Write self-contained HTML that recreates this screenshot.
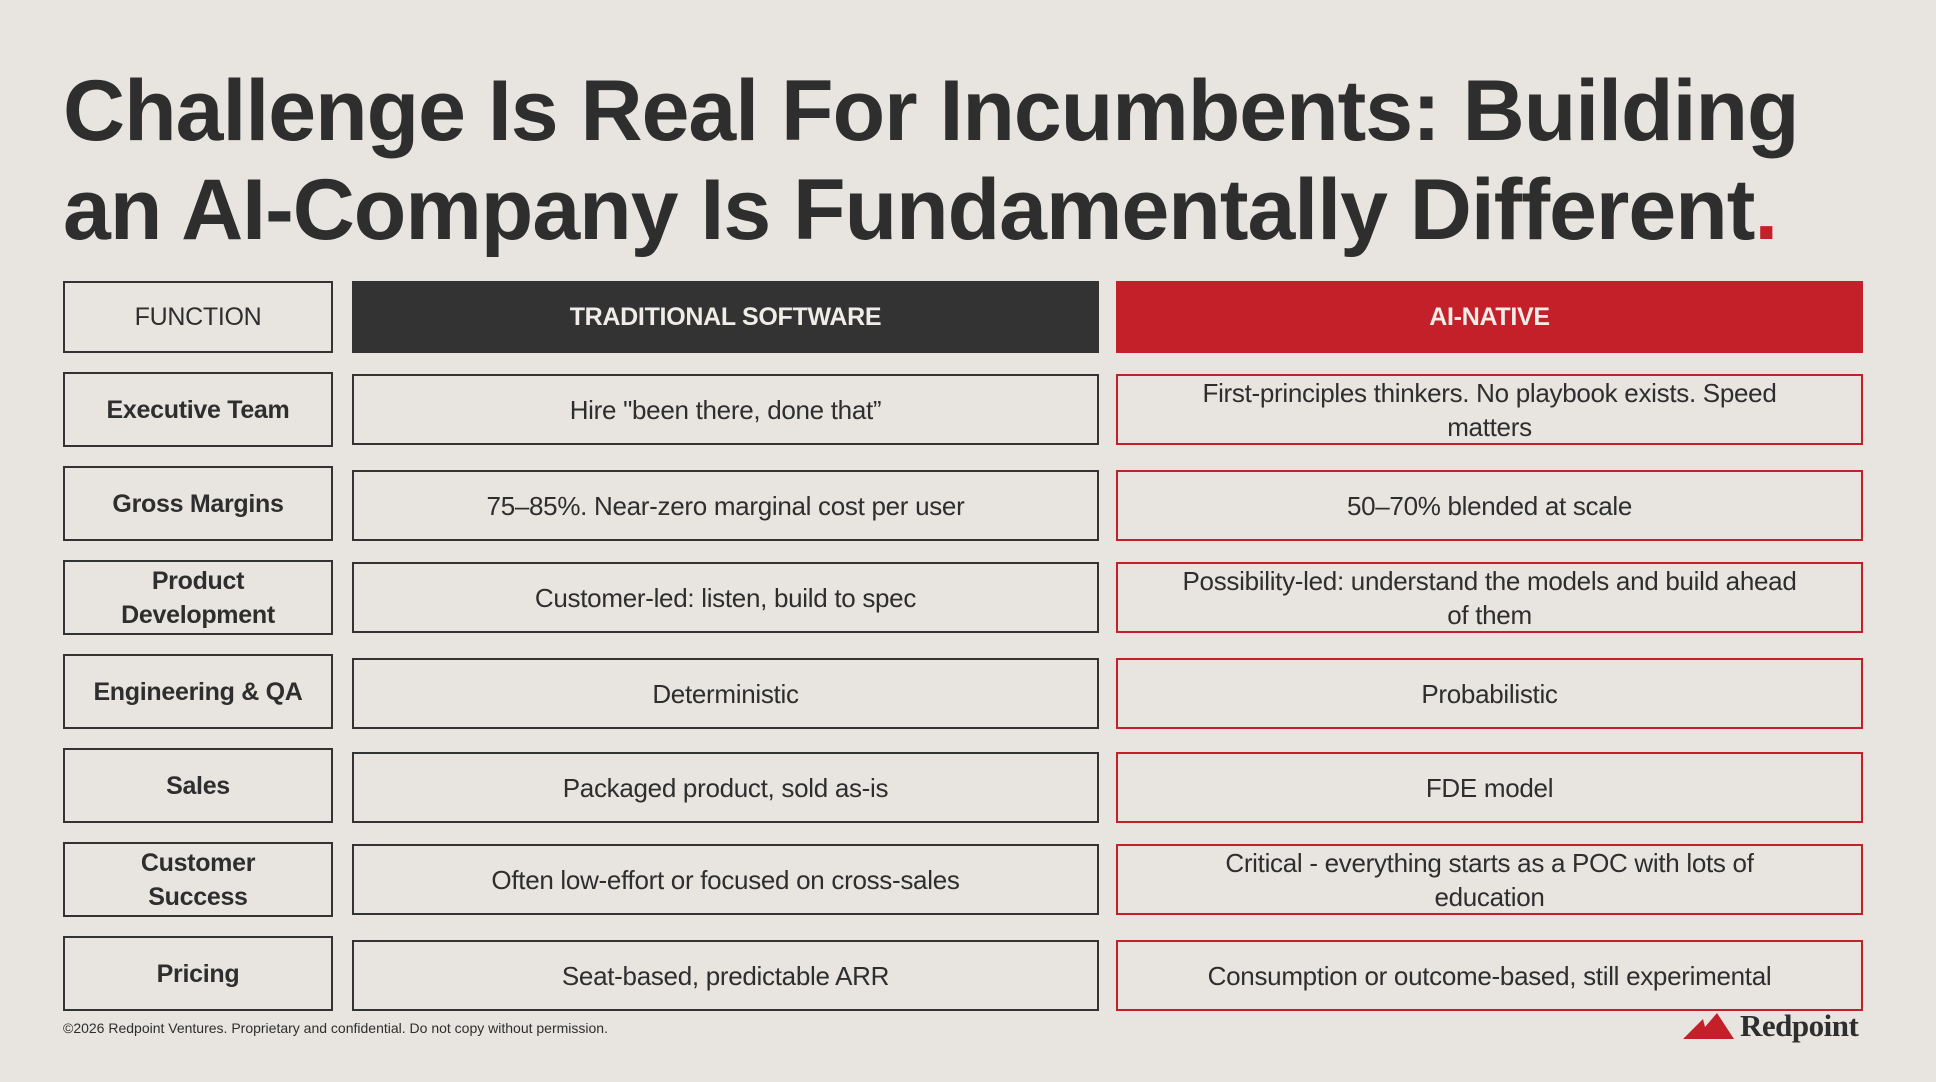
<!DOCTYPE html>
<html><head><meta charset="utf-8"><style>
*{margin:0;padding:0;box-sizing:border-box}
body{width:1936px;height:1082px;background:#e8e5e0;font-family:"Liberation Sans",sans-serif;color:#2e2e2e;position:relative;overflow:hidden}
.t{position:absolute;left:63px;font-weight:bold;font-size:86px;white-space:nowrap;letter-spacing:-1px;color:#2e2e2e}
.c{position:absolute;display:flex;align-items:center;justify-content:center;text-align:center;font-size:26px;line-height:34px;letter-spacing:-0.3px;border:2px solid #333;padding:0 20px}
.r{border-color:#c4202a}
.f{left:63px;width:270px;height:75px;font-weight:bold;font-size:25px;padding:0 8px}
.m{left:352px;width:747px;height:71px}
.a{left:1116px;width:747px;height:71px;padding:0 10px}
</style></head><body>
<div class="t" style="top:62px">Challenge Is Real For Incumbents: Building</div>
<div class="t" style="top:161px">an AI-Company Is Fundamentally Different<span style="color:#c4202a">.</span></div>

<div class="c f" style="top:281px;height:72px;font-weight:normal;font-size:25px">FUNCTION</div>
<div class="c m" style="top:281px;height:72px;background:#333;color:#f0ede8;font-weight:bold;font-size:25px">TRADITIONAL SOFTWARE</div>
<div class="c a" style="top:281px;height:72px;background:#c4202a;border-color:#c4202a;color:#f0ede8;font-weight:bold;font-size:25px">AI-NATIVE</div>

<div class="c f" style="top:372px">Executive Team</div>
<div class="c m" style="top:374px">Hire "been there, done that”</div>
<div class="c a r" style="top:374px">First-principles thinkers. No playbook exists. Speed<br>matters</div>

<div class="c f" style="top:466px">Gross Margins</div>
<div class="c m" style="top:470px">75–85%. Near-zero marginal cost per user</div>
<div class="c a r" style="top:470px">50–70% blended at scale</div>

<div class="c f" style="top:560px">Product<br>Development</div>
<div class="c m" style="top:562px">Customer-led: listen, build to spec</div>
<div class="c a r" style="top:562px">Possibility-led: understand the models and build ahead<br>of them</div>

<div class="c f" style="top:654px">Engineering &amp; QA</div>
<div class="c m" style="top:658px">Deterministic</div>
<div class="c a r" style="top:658px">Probabilistic</div>

<div class="c f" style="top:748px">Sales</div>
<div class="c m" style="top:752px">Packaged product, sold as-is</div>
<div class="c a r" style="top:752px">FDE model</div>

<div class="c f" style="top:842px">Customer<br>Success</div>
<div class="c m" style="top:844px">Often low-effort or focused on cross-sales</div>
<div class="c a r" style="top:844px">Critical - everything starts as a POC with lots of<br>education</div>

<div class="c f" style="top:936px">Pricing</div>
<div class="c m" style="top:940px">Seat-based, predictable ARR</div>
<div class="c a r" style="top:940px">Consumption or outcome-based, still experimental</div>

<div style="position:absolute;left:63px;top:1020px;font-size:14px;color:#2e2e2e">©2026 Redpoint Ventures. Proprietary and confidential. Do not copy without permission.</div>
<svg style="position:absolute;left:1683px;top:1011px" width="52" height="30"><polygon points="0,28 20,8 22,16 34,2 51,28" fill="#c4202a"/></svg>
<div style="position:absolute;left:1740px;top:1008px;font-family:'Liberation Serif',serif;font-weight:bold;font-size:31px;color:#2e2e2e;letter-spacing:-0.5px">Redpoint</div>
</body></html>
